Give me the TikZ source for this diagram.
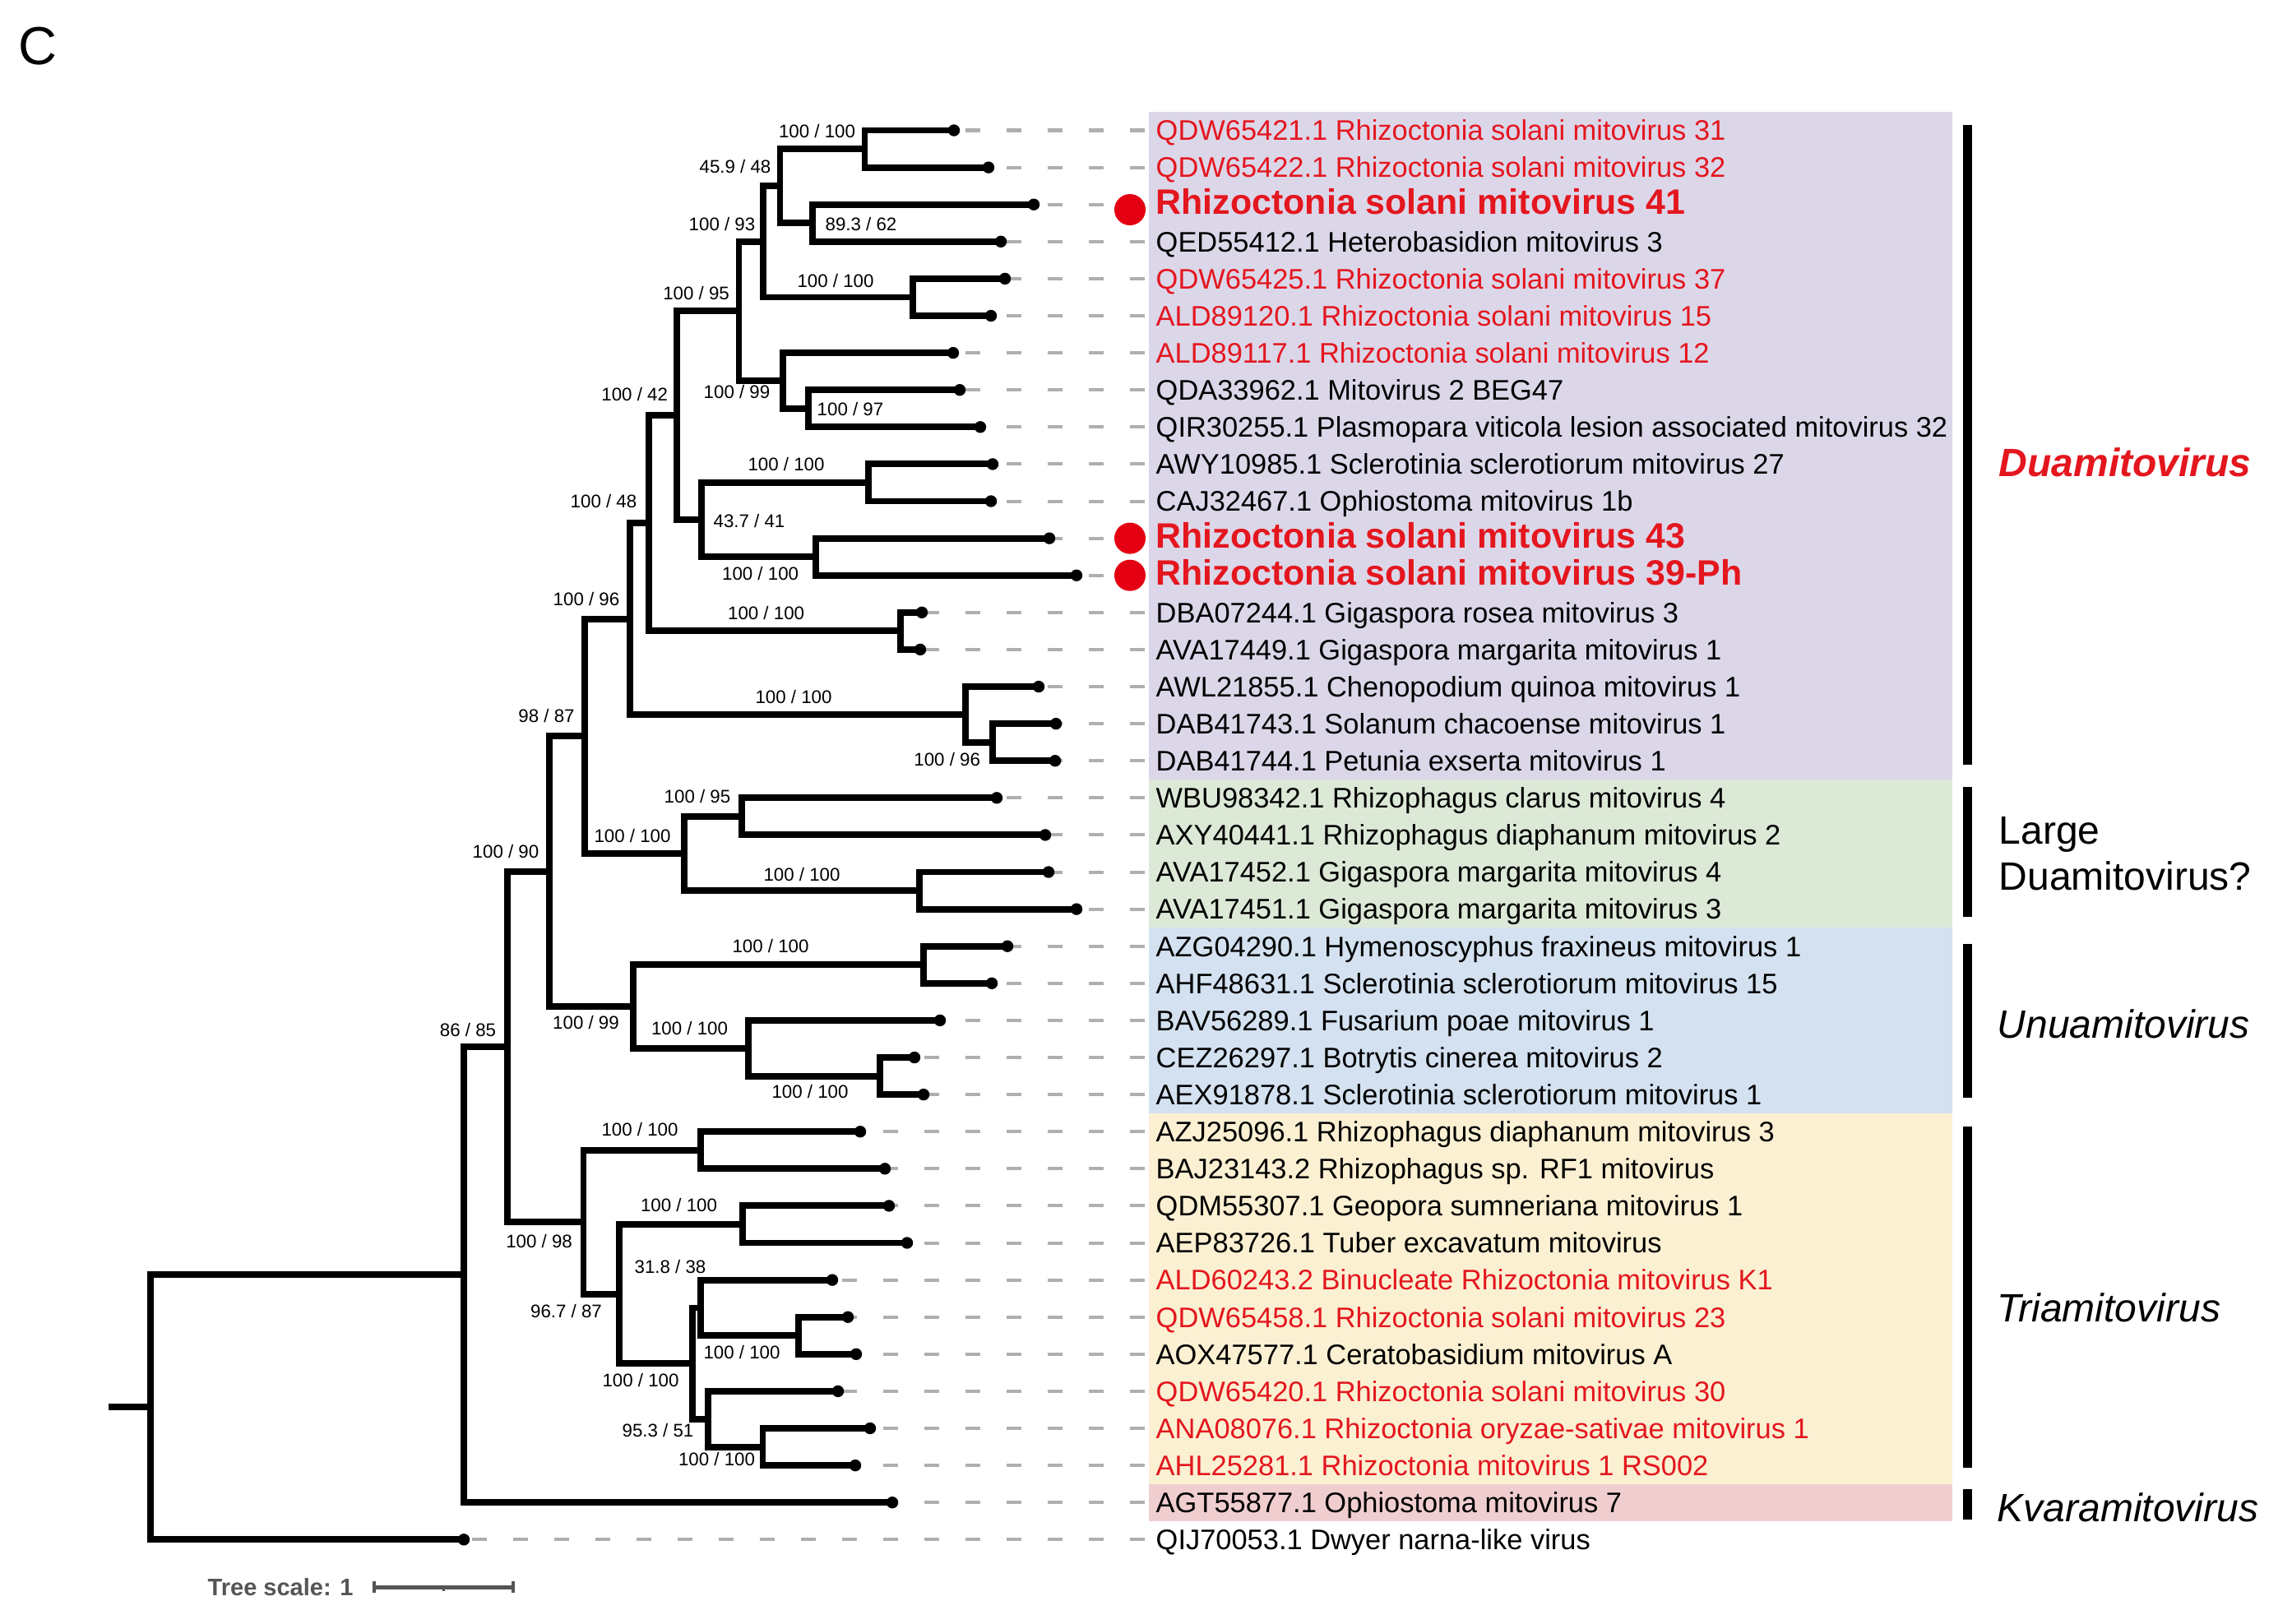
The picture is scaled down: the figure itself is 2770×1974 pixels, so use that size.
\documentclass[tikz,border=0pt]{standalone}
\usepackage{fontspec}
\setmainfont{Liberation Sans}
\usetikzlibrary{calc}
\definecolor{labred}{RGB}{228,22,30}
\definecolor{dotred}{RGB}{228,0,18}
\definecolor{bpurple}{RGB}{220,214,233}
\definecolor{bgreen}{RGB}{221,233,215}
\definecolor{bblue}{RGB}{211,225,240}
\definecolor{byellow}{RGB}{251,240,210}
\definecolor{bpink}{RGB}{240,206,208}
\definecolor{dashgray}{RGB}{175,175,175}
\definecolor{scalegray}{RGB}{85,85,85}
\pgfmathdeclarefunction{row}{1}{\pgfmathparse{158.5+45.1*#1}}
\begin{document}
\begin{tikzpicture}[x=0.01cm,y=-0.01cm,
  branch/.style={line width=2.25pt, line join=miter},
  leader/.style={dashgray, line width=1.15pt, dash pattern=on 0.18cm off 0.32cm},
  boot/.style={inner sep=0pt, font=\fontsize{6.34pt}{7pt}\selectfont},
  nl/.style={inner sep=0pt, anchor=base west, yshift=-0.123cm, font=\fontsize{9.79pt}{11pt}\selectfont},
  nr/.style={nl, text=labred},
  br/.style={inner sep=0pt, anchor=base west, yshift=-0.12cm, text=labred, font=\fontsize{12.2pt}{14pt}\selectfont\bfseries},
  grp/.style={inner sep=0pt, anchor=base west, font=\fontsize{13.66pt}{16pt}\selectfont},
  reddot/.style={circle, fill=dotred, inner sep=0pt, minimum size=0.38cm},
]
\fill[white] (0,0) rectangle (2770,1974);
\useasboundingbox (0,0) rectangle (2770,1974);

% coloured bands
\fill[bpurple] (1397,{row(-0.5)}) rectangle (2374,{row(17.5)});
\fill[bgreen]  (1397,{row(17.5)}) rectangle (2374,{row(21.5)});
\fill[bblue]   (1397,{row(21.5)}) rectangle (2374,{row(26.5)});
\fill[byellow] (1397,{row(26.5)}) rectangle (2374,{row(36.5)});
\fill[bpink]   (1397,{row(36.5)}) rectangle (2374,{row(37.5)});

% leaves
\foreach \i/\lx in {0/1160,1/1202,2/1257,3/1217,4/1222,5/1205,6/1159,7/1167,8/1192,9/1207,10/1205,11/1276,12/1309,13/1121,14/1119,15/1263,16/1284,17/1283,18/1212,19/1271,20/1275,21/1309,22/1225,23/1206,24/1143,25/1112,26/1123,27/1046,28/1076,29/1081,30/1103,31/1012,32/1031,33/1041,34/1019,35/1058,36/1040,37/1085,38/564}{
  \coordinate (t\i) at (\lx,{row(\i)});
  \coordinate (g\i) at (1392,{row(\i)});
  \draw[leader] (g\i) -- (t\i);
}

% internal nodes
\foreach \n/\x/\rr in {A/1051.5/0.5, C/988/2.5, B/948.5/1.5, E/1110/4.5, D/928/3, H/983/7.5, G/952/6.75, F/898.5/4.875, K/1055.6/9.5, M/992/11.5, J/852.6/10.5, I/823/7.6875, N/1095/13.5, L/789/10.59375, Q/1207/16.5, P/1174/15.75, O/766/13.171875, T/902/18.5, U/1118/20.5, S/832/19.5, R/711/16.3359375, Y/1122.6/22.5, AA/1069.6/25.5, Z/910/24.75, X/770/23.625, V/668/19.98046875, CC/852/27.5, DD/903/29.5, HH/970.6/32.5, GG/852/31.75, JJ/927.5/35.5, II/861/34.75, FF/842/33.25, EE/753.4/31.375, BB/709.5/29.4375, W/617/24.708984375, RT/564/30.8544921875, ROOT/183/34.42724609375}{
  \coordinate (n\n) at (\x,{row(\rr)});
}
\coordinate (stub) at (131.5,{row(34.42724609375)});

% branches
\foreach \p/\a/\b in {nA/t0/t1, nC/t2/t3, nB/nA/nC, nE/t4/t5, nD/nB/nE, nH/t7/t8, nG/t6/nH, nF/nD/nG, nK/t9/t10, nM/t11/t12, nJ/nK/nM, nI/nF/nJ, nN/t13/t14, nL/nI/nN, nQ/t16/t17, nP/t15/nQ, nO/nL/nP, nT/t18/t19, nU/t20/t21, nS/nT/nU, nR/nO/nS, nY/t22/t23, nAA/t25/t26, nZ/t24/nAA, nX/nY/nZ, nV/nR/nX, nCC/t27/t28, nDD/t29/t30, nHH/t32/t33, nGG/t31/nHH, nJJ/t35/t36, nII/t34/nJJ, nFF/nGG/nII, nEE/nDD/nFF, nBB/nCC/nEE, nW/nV/nBB, nRT/nW/t37, nROOT/nRT/t38}{
  \draw[branch] (\a) -| (\p) |- (\b);
}
\draw[branch] (stub) -- (nROOT);
\foreach \i in {0,...,38}{\fill (t\i) circle[radius=0.072cm];}

% red markers
\node[reddot] (rd2) at (1374,255) {};
\node[reddot] (rd11) at (1374,{row(11)}) {};
\node[reddot] (rd12) at (1374,{row(12)}) {};

% leaf labels
\foreach \i/\st/\txt in {
 0/nr/{QDW65421.1 Rhizoctonia solani mitovirus 31},
 1/nr/{QDW65422.1 Rhizoctonia solani mitovirus 32},
 2/br/{Rhizoctonia solani mitovirus 41},
 3/nl/{QED55412.1 Heterobasidion mitovirus 3},
 4/nr/{QDW65425.1 Rhizoctonia solani mitovirus 37},
 5/nr/{ALD89120.1 Rhizoctonia solani mitovirus 15},
 6/nr/{ALD89117.1 Rhizoctonia solani mitovirus 12},
 7/nl/{QDA33962.1 Mitovirus 2 BEG47},
 8/nl/{QIR30255.1 Plasmopara viticola lesion associated mitovirus 32},
 9/nl/{AWY10985.1 Sclerotinia sclerotiorum mitovirus 27},
 10/nl/{CAJ32467.1 Ophiostoma mitovirus 1b},
 11/br/{Rhizoctonia solani mitovirus 43},
 12/br/{Rhizoctonia solani mitovirus 39-Ph},
 13/nl/{DBA07244.1 Gigaspora rosea mitovirus 3},
 14/nl/{AVA17449.1 Gigaspora margarita mitovirus 1},
 15/nl/{AWL21855.1 Chenopodium quinoa mitovirus 1},
 16/nl/{DAB41743.1 Solanum chacoense mitovirus 1},
 17/nl/{DAB41744.1 Petunia exserta mitovirus 1},
 18/nl/{WBU98342.1 Rhizophagus clarus mitovirus 4},
 19/nl/{AXY40441.1 Rhizophagus diaphanum mitovirus 2},
 20/nl/{AVA17452.1 Gigaspora margarita mitovirus 4},
 21/nl/{AVA17451.1 Gigaspora margarita mitovirus 3},
 22/nl/{AZG04290.1 Hymenoscyphus fraxineus mitovirus 1},
 23/nl/{AHF48631.1 Sclerotinia sclerotiorum mitovirus 15},
 24/nl/{BAV56289.1 Fusarium poae mitovirus 1},
 25/nl/{CEZ26297.1 Botrytis cinerea mitovirus 2},
 26/nl/{AEX91878.1 Sclerotinia sclerotiorum mitovirus 1},
 27/nl/{AZJ25096.1 Rhizophagus diaphanum mitovirus 3},
 28/nl/{BAJ23143.2 Rhizophagus sp. RF1 mitovirus},
 29/nl/{QDM55307.1 Geopora sumneriana mitovirus 1},
 30/nl/{AEP83726.1 Tuber excavatum mitovirus},
 31/nr/{ALD60243.2 Binucleate Rhizoctonia mitovirus K1},
 32/nr/{QDW65458.1 Rhizoctonia solani mitovirus 23},
 33/nl/{AOX47577.1 Ceratobasidium mitovirus A},
 34/nr/{QDW65420.1 Rhizoctonia solani mitovirus 30},
 35/nr/{ANA08076.1 Rhizoctonia oryzae-sativae mitovirus 1},
 36/nr/{AHL25281.1 Rhizoctonia mitovirus 1 RS002},
 37/nl/{AGT55877.1 Ophiostoma mitovirus 7},
 38/nl/{QIJ70053.1 Dwyer narna-like virus}}{
  \node[\st] (lab\i) at (1405,{row(\i)}) {\txt};
}

% support values
\foreach \n/\lx/\ly/\bsa/\bsb in {A/993.5/159.3/100/100, B/894/203/45.9/48, C/1047/273/89.3/62, D/878/273/100/93, E/1016/341.7/100/100, F/846.6/356.7/100/95, G/896/476.7/100/99, H/1034/497.7/100/97, I/771.7/480/100/42, K/956/565/100/100, L/734/610/100/48, J/911/634/43.7/41, M/924.6/698/100/100, O/713/729/100/96, N/931.6/745.7/100/100, P/965/848/100/100, R/664.5/870.7/98/87, Q/1151.7/923/100/96, T/848/968/100/95, S/769/1016/100/100, U/975/1063/100/100, V/615/1035/100/90, Y/937/1150/100/100, X/712.5/1243/100/99, Z/838.5/1250.7/100/100, W/569/1252/86/85, AA/985/1327/100/100, CC/778/1373/100/100, DD/825.5/1465/100/100, BB/655.6/1509/100/98, GG/815/1540/31.8/38, EE/688.5/1594/96.7/87, HH/902/1644/100/100, FF/779/1678/100/100, II/800/1739/95.3/51, JJ/871.5/1774/100/100}{
  \node[boot] (bs\n) at (\lx,\ly) {\bsa\ /\ \bsb};
}

% clade bars and names
\fill (2387,152) rectangle (2398,930);
\fill (2387,957) rectangle (2398,1115);
\fill (2387,1148) rectangle (2398,1335);
\fill (2387,1370) rectangle (2398,1785);
\fill (2387,1811) rectangle (2398,1848);
\node[grp, text=labred] (gDua) at (2430,579) {\bfseries\itshape Duamitovirus};
\node[grp] (gLarge1) at (2430,1026) {Large};
\node[grp] (gLarge2) at (2430,1082) {Duamitovirus?};
\node[grp] (gUnua) at (2428,1262) {\itshape Unuamitovirus};
\node[grp] (gTria) at (2428,1607) {\itshape Triamitovirus};
\node[grp] (gKvara) at (2428,1850) {\itshape Kvaramitovirus};

% tree scale
\node[inner sep=0pt, anchor=base west, text=scalegray, font=\fontsize{8.25pt}{10pt}\selectfont\bfseries] (tsl) at (252,1940) {Tree scale: 1};
\coordinate (sba) at (455,1930);
\coordinate (sbb) at (624,1930);
\coordinate (sbm) at (539.5,1930);
\draw[scalegray, line width=1.4pt] (sba) -- (sbb);
\draw[scalegray, line width=1.4pt] ([yshift=0.07cm]sba) -- ([yshift=-0.07cm]sba);
\draw[scalegray, line width=1.4pt] ([yshift=0.07cm]sbb) -- ([yshift=-0.07cm]sbb);
\draw[scalegray, line width=1pt] (sbm) -- ([yshift=-0.05cm]sbm);

% panel letter
\node[inner sep=0pt, anchor=base west, font=\fontsize{18.5pt}{22pt}\selectfont] (panel) at (22,78) {C};
\end{tikzpicture}
\end{document}
